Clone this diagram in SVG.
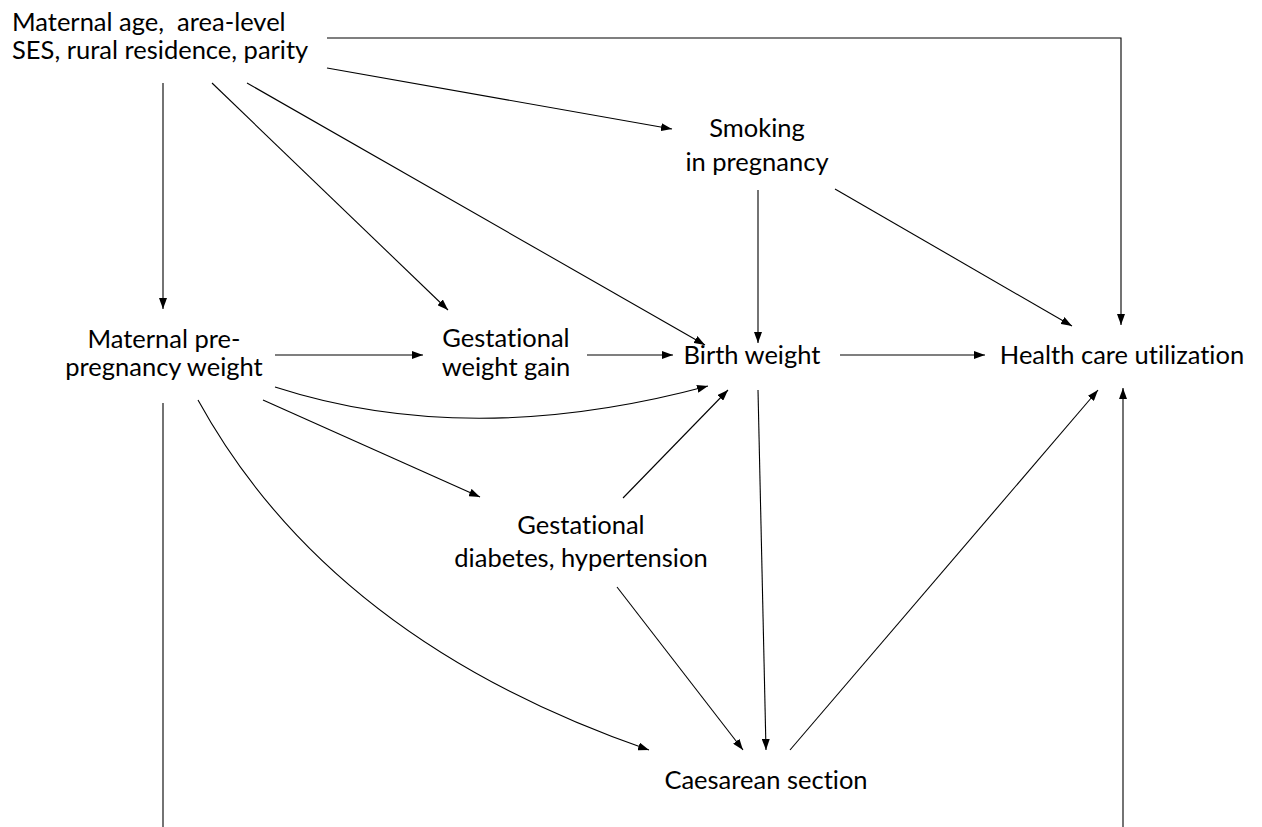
<svg xmlns="http://www.w3.org/2000/svg" width="1262" height="827" viewBox="0 0 1262 827">
<defs>
<marker id="ah" markerWidth="11" markerHeight="8" refX="11" refY="4" orient="auto" markerUnits="userSpaceOnUse">
<path d="M0,0 L11,4 L0,8 z" fill="#000"/>
</marker>
<style>
.t{font-family:Lato,"Open Sans","DejaVu Sans",sans-serif;font-size:25.5px;fill:#000;white-space:pre;font-variant-ligatures:none;font-feature-settings:"liga" 0,"dlig" 0}
.c{text-anchor:middle}
.e{fill:none;stroke:#000;stroke-width:1.1;marker-end:url(#ah)}
.p{fill:none;stroke:#000;stroke-width:1.1}
</style>
</defs>
<rect width="1262" height="827" fill="#fff"/>
<g id="connectors">
<path class="e" d="M327,68 L672,129"/>
<path class="e" d="M327,38 L1121,38 L1121,325"/>
<path class="e" d="M163,83 L163,309"/>
<path class="e" d="M212,83 L448,310"/>
<path class="e" d="M247,83 L705,345"/>
<path class="e" d="M758,190 L758,343"/>
<path class="e" d="M835,189 L1072,326"/>
<path class="e" d="M275,355 L423,355"/>
<path class="e" d="M587,355 L673,355"/>
<path class="e" d="M840,355 L985,355"/>
<path class="e" d="M275,387 Q470,450 708,386"/>
<path class="e" d="M263,400 L480,497"/>
<path class="e" d="M198,400 Q330,640 649,750"/>
<path class="p" d="M163,403 L163,827"/>
<path class="e" d="M623,498 L728,390"/>
<path class="e" d="M617,587 L743,750"/>
<path class="e" d="M758,390 L766,750"/>
<path class="e" d="M790,750 L1098,390"/>
<path class="e" d="M1123,827 L1123,388"/>
</g>
<g id="n-confounders">
<text class="t" x="12" y="31" xml:space="preserve">Maternal age,  area-level</text>
<text class="t" x="12" y="59">SES, rural residence, parity</text>
</g>
<g id="n-smoking">
<text class="t c" x="757" y="137">Smoking</text>
<text class="t c" x="757" y="171">in pregnancy</text>
</g>
<g id="n-prepregnancy">
<text class="t c" x="164" y="348">Maternal pre-</text>
<text class="t c" x="164" y="376">pregnancy weight</text>
</g>
<g id="n-gwg">
<text class="t c" x="506" y="347">Gestational</text>
<text class="t c" x="506" y="376">weight gain</text>
</g>
<g id="n-birthweight">
<text class="t c" x="752" y="364">Birth weight</text>
</g>
<g id="n-hcu">
<text class="t c" x="1122" y="364">Health care utilization</text>
</g>
<g id="n-gdh">
<text class="t c" x="581" y="534">Gestational</text>
<text class="t c" x="581" y="567">diabetes, hypertension</text>
</g>
<g id="n-caesarean">
<text class="t c" x="766" y="789">Caesarean section</text>
</g>
</svg>
